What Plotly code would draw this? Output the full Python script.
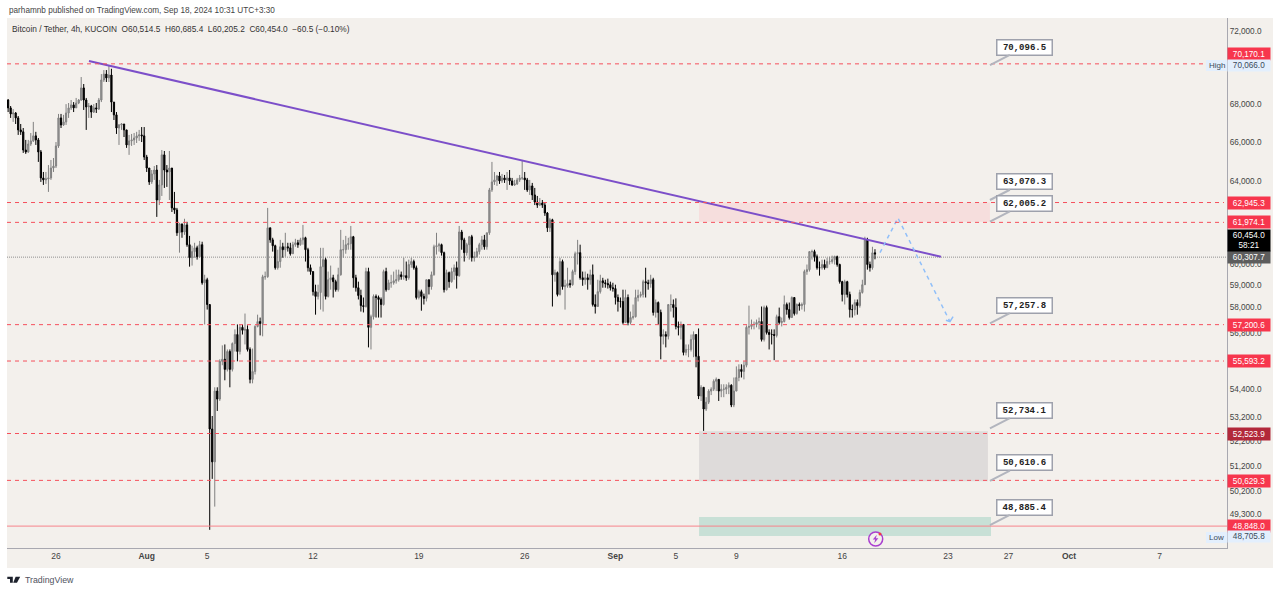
import math
import pandas as pd
import plotly.graph_objects as go

first_open = 68210
closes = [
67790,67470,67520,67260,66630,66530,65590,65490,65900,66060,66320,66110,65490,64170,64070,64120,64170,64670,64770,65800,
67260,66890,67050,67520,67790,67950,67790,68050,68210,68860,68210,67840,67890,67570,67790,67730,68210,69290,69610,69400,
69560,68100,67420,66730,66890,66940,66630,65850,66060,66110,66210,66320,66370,66320,65230,64670,63970,64370,64570,63070,
63820,65340,64570,64470,64670,62680,62580,61470,61900,61510,61850,60900,60280,60570,60750,60330,60900,59110,59250,58110,
52710,51370,54300,53960,55580,55670,55230,56010,55230,56360,56760,56010,57080,56950,56990,56100,54800,55140,57120,57340,
57250,59390,59390,61710,61130,60850,59810,60100,60800,60660,60800,60750,60470,60900,60990,60900,61130,61230,60660,59810,
59630,58700,58480,58660,59860,60190,58480,59250,59340,59160,58790,59480,60660,60660,60900,60950,61280,59340,58880,58520,
58060,58020,59630,57080,57560,58480,58430,58340,58110,59630,58790,59110,59110,59200,59250,59480,59390,59440,59340,59960,
60100,59810,58430,58700,58480,58390,59250,58930,59480,60800,60850,60900,60520,58790,59580,59160,59630,59810,59440,61510,
61130,60520,60900,61280,60280,60330,60570,60900,61130,60800,61470,63570,63970,64070,64270,64020,64170,64070,64170,64020,
63820,63870,64070,64170,64170,64070,63570,63770,63320,62970,62820,62920,62820,62430,61710,62100,59480,59580,58570,60100,
58930,58970,59070,59020,59630,60470,60520,59340,59250,59340,59250,59480,58110,58020,58700,59200,59110,59070,59020,58880,
58840,58430,58250,58250,57300,58430,57300,57520,57560,58430,58520,58570,59160,59110,59070,59250,57750,58200,57750,56680,
56760,56680,58110,58110,57970,57120,57080,57210,55970,56100,56100,56540,56760,55800,54090,54460,53540,53830,54300,54380,
54720,54800,54300,54380,54380,54460,54550,53710,54300,54880,55230,55140,55410,57080,57120,57210,57210,57300,57340,56540,
57970,56850,56760,56760,56720,57560,57300,57340,58110,57880,57520,58430,57700,58110,58060,58110,59630,59720,60570,60570,
60330,59810,59810,59960,59810,60100,60100,60190,60330,59960,59160,58570,59160,58570,57880,57880,58200,58060,58660,59020,
61130,59960,59810,60514,60454]
highs = [
68260,67890,67730,67570,67360,66940,66730,66110,66110,66470,67050,66530,66210,65590,64470,64470,64820,65080,65180,66000,
67470,67470,67420,67990,68050,68210,68100,68320,68260,69450,69070,68320,68050,67950,67990,68050,68320,69610,69830,69830,
70066,69900,68100,67570,66940,66990,66940,66630,66370,66420,66470,66530,66630,66780,66780,65340,64670,64570,64770,64820,
64070,65590,65540,64820,65540,64670,63470,62680,61950,61900,62150,62000,61320,60850,60990,60850,61080,61040,59480,59340,
58110,53250,54460,54460,55670,56280,56320,56100,56100,56410,56990,57210,57210,57210,57700,57170,56190,56140,57170,57650,
57520,59480,59630,62680,61710,61230,60900,60660,61130,60990,61470,60990,60990,61040,61180,61130,61230,61850,61280,60750,
59960,59630,59020,59020,60750,60750,60280,59630,59910,59480,59250,59810,61610,61130,61320,61230,61800,61320,59480,59160,
58790,58430,59810,59810,57650,58570,58570,58520,58430,59720,59810,59250,59480,59630,59720,59720,59630,60280,60100,60190,
60280,60190,59910,58790,58790,58610,59250,59250,59630,60900,61470,60990,60950,60570,59720,59630,59810,59960,60100,61800,
61610,61230,60990,61320,61370,60570,60750,60990,61320,61370,61470,63670,64980,64470,64320,64470,64370,64320,64470,64570,
64170,64070,64170,64320,65080,64470,64170,64070,63920,63670,63270,63170,63070,62920,62480,62190,62150,59720,59630,60280,
60190,59250,59810,59250,59720,60570,61130,60900,59630,59630,59530,59720,59960,58570,59250,59480,59340,59250,59300,59160,
59110,59020,58570,58430,58790,58790,58570,57790,58110,58790,58790,58700,59250,59810,59250,59480,59340,58340,58250,57880,
56990,56900,58110,58570,58340,58390,57340,57340,57210,56320,56320,56760,56900,56760,57030,54550,54460,54040,54380,54460,
54800,54880,54800,54590,54590,54590,54670,54590,54880,55360,55450,55450,55580,57170,58060,57430,57340,57430,57520,58020,
58060,58060,56990,56990,56990,57650,57970,57520,58520,58200,58200,58480,58430,58160,58200,58200,59720,59960,60570,60660,
60660,60430,60100,60190,60190,60280,60330,60380,60380,60380,60000,59200,59250,59200,58700,58110,58340,58340,58790,59250,
61280,61230,60100,60800,60685]
lows = [
67570,67260,67050,66940,66370,66370,65440,65390,65440,65800,66000,65850,64980,63970,63820,63870,63470,64070,64470,64670,
65700,66730,66840,66890,67260,67680,67570,67790,67990,68160,67680,66630,67260,67260,67520,67520,67680,68100,69180,69180,
69180,67570,67150,66420,65850,66630,66260,65700,65340,65800,65850,65950,66060,66000,65080,64470,63820,63870,64070,62240,
62820,63270,63670,63720,63070,62480,62390,61320,60520,61230,61370,60800,59860,59910,60280,60190,60280,59020,57210,57880,
48706,50690,49600,53460,53880,55410,54760,55140,54460,55140,56010,55580,55880,56760,56320,56010,54630,54630,55010,57080,
56720,56680,59250,59340,60990,60570,59720,59720,59810,60280,60330,60570,60380,60470,60800,60750,60850,60900,60100,59630,
59480,58520,57650,58340,57880,57790,58340,58430,58790,58430,58700,58700,59440,60280,60470,60660,60660,58880,58700,58340,
57790,57750,57970,56190,56100,57430,57520,57520,57520,58060,58700,58790,58880,59020,59070,59160,59250,59250,59200,59250,
59810,59720,58340,58340,57830,58110,58250,58570,58790,59440,60430,60570,60380,58660,58750,58880,59110,59250,58840,59390,
60660,60100,60380,60190,60100,60100,60280,60430,60660,60660,60660,61370,63470,63820,63770,63870,63920,63920,63570,63820,
63770,63770,63820,63970,64070,63570,63470,63320,63070,62820,62680,62770,62680,62290,61510,61510,58020,59160,58480,58520,
58790,57880,58880,58880,58970,59480,59960,59250,58970,59020,58790,59020,58020,57700,58160,58610,58880,58880,58840,58750,
58700,58110,57790,57970,57210,57340,57170,57210,57430,57520,58250,58430,58430,58430,58790,58880,57610,57520,57210,55670,
56320,56190,56540,57790,57520,56990,56720,56540,55840,55840,55760,56010,55760,55320,53960,53880,52630,53460,53750,54130,
54300,54300,53880,54040,54040,54170,54170,53620,53620,54300,54720,54880,54800,55320,56760,56990,56990,57080,56990,56450,
56450,56760,56100,56320,55630,56630,57210,57120,57300,57650,57430,57520,57610,57650,57830,57880,57790,59480,59630,60190,
60100,59720,59440,59720,59720,59810,59960,60000,59960,59860,59070,58250,58110,58430,57520,57520,57610,57650,57970,58610,
59020,59720,59630,59720,60205]

bar_start = "2024-07-22 20:00"
x_range = ["2024-07-22 18:14", "2024-10-11 10:48"]
y_top, y_bottom = 72737, 48017

tick_prices = [72000,68000,66000,64000,60000,59000,58000,56800,54400,53200,52200,51200,50200,49300]
tick_dates = ["2024-07-26","2024-08-01","2024-08-05","2024-08-12","2024-08-19","2024-08-26","2024-09-01",
              "2024-09-05","2024-09-09","2024-09-16","2024-09-23","2024-09-27","2024-10-01","2024-10-07"]
tick_names = ["26","<b>Aug</b>","5","12","19","26","<b>Sep</b>","5","9","16","23","27","<b>Oct</b>","7"]

red_levels = [70170.1,62945.3,61974.1,57200.6,55593.2,52523.9,50629.3]
low_level = 48848.0
last_level = 60307.7

trend_dates = ["2024-07-28 04:20","2024-09-22 12:45"]
trend_prices = [70325,60330]
path_dates = ["2024-09-18 12:00","2024-09-19 16:30","2024-09-23 03:00"]
path_prices = [60520,62190,57340]
head_dates = ["2024-09-23 08:00","2024-09-23 03:00","2024-09-22 20:40"]
head_prices = [57560,57340,57400]

zone_left = "2024-09-06 12:45"
zones = [("2024-09-25 18:30",62945.3,62005.2,"#f6dedd"),
         ("2024-09-25 15:20",52620,50600,"#dedbda"),
         ("2024-09-25 20:10",49200,48470,"#c8e0d6")]

callout_date = "2024-09-25 18:30"
callouts = [(70096.5,"70,096.5",-18),(63070.3,"63,070.3",-18),(62005.2,"62,005.2",-18),
            (57257.8,"57,257.8",-18),(52734.1,"52,734.1",-18),(50610.6,"50,610.6",-18),(48885.4,"48,885.4",-18)]

tags = [(70170.1,"70,170.1",10,"#f7364d","#ffffff",12),(62945.3,"62,945.3",0,"#f7364d","#ffffff",12),
        (61974.1,"61,974.1",0,"#f7364d","#ffffff",12),(57200.6,"57,200.6",0,"#f7364d","#ffffff",12),
        (55593.2,"55,593.2",0,"#f7364d","#ffffff",12),(52523.9,"52,523.9",0,"#b2283a","#ffffff",12),
        (50629.3,"50,629.3",-1,"#f7364d","#ffffff",12),(48848.0,"48,848.0",0,"#f7364d","#ffffff",12),
        (60307.7,"60,307.7",0,"#5d5d5d","#ffffff",12),(60454.0,"60,454.0<br>58:21",14,"#000000","#ffffff",21),
        (70066.0,"70,066.0",0,"#e3effd","#3a4a5a",11),(48705.8,"48,705.8",-7,"#e3effd","#3a4a5a",11)]

header_text = "parhamnb published on TradingView.com, Sep 18, 2024 10:31 UTC+3:30"
legend_text = "Bitcoin / Tether, 4h, KUCOIN  O60,514.5  H60,685.4  L60,205.2  C60,454.0  −60.5 (−0.10%)"

W, H, L, R, T, B = 1280, 592, 7, 1227, 18, 548
def px(x): return (x - L) / (R - L)
def py(y): return 1 - (y - T) / (B - T)
def paper(**k): return dict(xref="paper", yref="paper", **k)

opens = [first_open] + closes[:-1]
dates = pd.date_range(bar_start, periods=len(closes), freq="4h")

fig = go.Figure()
fig.add_trace(go.Candlestick(x=dates, open=opens, high=highs, low=lows, close=closes,
    increasing=dict(line=dict(color="#808080", width=1), fillcolor="#9a9a9a"),
    decreasing=dict(line=dict(color="#000000", width=1), fillcolor="#000000"),
    hoverinfo="skip", showlegend=False))
fig.add_trace(go.Scatter(x=trend_dates, y=trend_prices, mode="lines", showlegend=False, hoverinfo="skip",
    line=dict(color="#7c4fc9", width=2)))
fig.add_trace(go.Scatter(x=path_dates, y=path_prices, mode="lines", showlegend=False, hoverinfo="skip",
    line=dict(color="#90bff9", width=1.5, dash="4px,4px")))
fig.add_trace(go.Scatter(x=head_dates, y=head_prices, mode="lines", showlegend=False, hoverinfo="skip",
    line=dict(color="#90bff9", width=1.5)))

shapes = [
    paper(type="rect", x0=px(7), x1=px(1273), y0=py(568), y1=py(18), fillcolor="#f3f0ec", line_width=0, layer="below"),
]
for end, top, bot, col in zones:
    shapes.append(dict(type="rect", xref="x", yref="y", x0=zone_left, x1=end, y0=bot, y1=top,
                       fillcolor=col, line_width=0, layer="below"))
for lv in red_levels:
    shapes.append(dict(type="line", xref="paper", yref="y", x0=0, x1=px(1224), y0=lv, y1=lv,
                       line=dict(color="#f5505c", width=1, dash="4px,4px"), layer="above"))
shapes.append(dict(type="line", xref="paper", yref="y", x0=0, x1=1, y0=low_level, y1=low_level,
                   line=dict(color="#f7838c", width=1), layer="above"))
shapes.append(dict(type="line", xref="paper", yref="y", x0=0, x1=1, y0=last_level, y1=last_level,
                   line=dict(color="#8f8f8f", width=1, dash="1px,1px"), layer="below"))
for top, bot in [(60, 71), (532, 543)]:
    shapes.append(paper(type="rect", x0=px(1206), x1=px(1227), y0=py(bot), y1=py(top), fillcolor="#e3effd", line_width=0))
shapes.append(paper(type="circle", x0=px(868.7), x1=px(882.7), y0=py(546), y1=py(532), fillcolor="#f3f0ec",
                    line=dict(color="#a93fd0", width=1.5)))
shapes.append(paper(type="circle", x0=px(878.5), x1=px(881.5), y0=py(535.5), y1=py(532.5), fillcolor="#f23645", line_width=0))
def poly(pts):
    return "M " + " L ".join(f"{px(a):.5f},{py(b):.5f}" for a, b in pts) + " Z"
shapes.append(paper(type="path", path=poly([(876.8,534.8),(872.8,539.5),(875.2,539.5),(874.2,543.2),(878.4,538.2),(875.9,538.2)]),
                    fillcolor="#a93fd0", line_width=0))
shapes.append(paper(type="path", path=poly([(7.3,576.7),(12.8,576.7),(12.8,582.7),(10,582.7),(10,579),(7.3,579)]),
                    fillcolor="#1e222d", line_width=0))
shapes.append(paper(type="path", path=poly([(15.6,576.7),(20.2,576.7),(17,582.7),(13.2,582.7)]),
                    fillcolor="#1e222d", line_width=0))

ann = [
    paper(x=px(7), y=py(10), text=header_text, showarrow=False, xanchor="left", yanchor="middle",
          font=dict(family="Liberation Sans", size=8.2, color="#444444")),
    paper(x=px(10), y=py(29), text=legend_text, showarrow=False, xanchor="left", yanchor="middle",
          font=dict(family="Liberation Sans", size=8.3, color="#333333")),
    paper(x=px(22.5), y=py(579.5), text="TradingView", showarrow=False, xanchor="left", yanchor="middle",
          font=dict(family="Liberation Sans", size=8.8, color="#50535e")),
    paper(x=px(1216.5), y=py(65.5), text="High", showarrow=False, xanchor="center", yanchor="middle",
          font=dict(family="Liberation Sans", size=8, color="#3a4a5a")),
    paper(x=px(1216.5), y=py(537.5), text="Low", showarrow=False, xanchor="center", yanchor="middle",
          font=dict(family="Liberation Sans", size=8, color="#3a4a5a")),
]
for price, label, ay in callouts:
    ann.append(dict(x=callout_date, y=math.log10(price), xref="x", yref="y", text="<b>"+label+"</b>", showarrow=True,
                    ax=35, ay=ay, arrowhead=0, arrowwidth=2, arrowcolor="#b2b5be", standoff=0,
                    bgcolor="#ffffff", bordercolor="#9ea1ac", borderwidth=1.5, borderpad=1, width=52, height=12,
                    font=dict(family="Liberation Mono", size=9, color="#222222")))
for price, label, shift, bg, fg, h in tags:
    ann.append(dict(x=px(1248.5), y=math.log10(price), xref="paper", yref="y", yshift=shift, text=label, showarrow=False,
                    xanchor="center", yanchor="middle", width=42, height=h, bgcolor=bg, borderpad=0,
                    font=dict(family="Liberation Sans", size=8.2, color=fg)))

fig.update_layout(
    width=W, height=H, autosize=False, paper_bgcolor="#ffffff", plot_bgcolor="#f3f0ec",
    margin=dict(l=L, r=W - R, t=T, b=H - B, pad=0), showlegend=False, hovermode=False,
    shapes=shapes, annotations=ann,
    xaxis=dict(type="date", range=x_range, rangeslider=dict(visible=False), showgrid=False, zeroline=False,
               tickmode="array", tickvals=tick_dates, ticktext=tick_names, ticks="", showline=True,
               linecolor="#a8a8b0", linewidth=1, tickfont=dict(family="Liberation Sans", size=8.5, color="#444444")),
    yaxis=dict(type="log", side="right", range=[math.log10(y_bottom), math.log10(y_top)], showgrid=False, zeroline=False,
               tickmode="array", tickvals=tick_prices, ticktext=[f"{v:,.1f}" for v in tick_prices], ticks="",
               showline=True, linecolor="#a8a8b0", linewidth=1,
               tickfont=dict(family="Liberation Sans", size=8.2, color="#444444")),
)
fig.write_html("out.html", config=dict(displayModeBar=False),
               post_script="document.documentElement.style.margin='0';document.body.style.margin='0';document.body.style.overflow='hidden';")
